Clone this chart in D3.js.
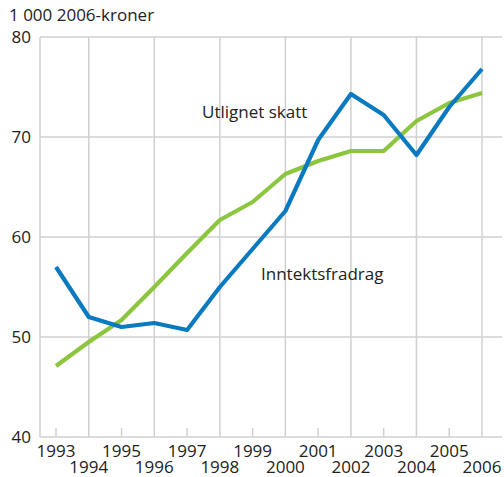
<!DOCTYPE html>
<html>
<head>
<meta charset="utf-8">
<script src="https://cdn.jsdelivr.net/npm/d3@7"></script>
<style>
  body { margin: 0; background: #fff; }
  svg { display: block; font-family: "Open Sans", "Noto Sans", sans-serif; }
</style>
</head>
<body>
<div id="chart"></div>
<script>
const years = [1993, 1994, 1995, 1996, 1997, 1998, 1999, 2000, 2001, 2002, 2003, 2004, 2005, 2006];
const inntektsfradrag = [57.0, 52.0, 51.0, 51.4, 50.7, 55.0, 58.8, 62.6, 69.7, 74.3, 72.2, 68.2, 73.0, 76.8];
const utlignetSkatt = [47.1, 49.5, 51.7, 55.0, 58.4, 61.7, 63.5, 66.3, 67.6, 68.6, 68.6, 71.6, 73.4, 74.4];
const yTicks = [40, 50, 60, 70, 80];

const width = 504, height = 477;
const plotLeft = 40, plotRight = 502, plotTop = 37, plotBottom = 437;

const svg = d3.select("#chart").append("svg")
  .attr("width", width).attr("height", height);

const x = d3.scaleLinear().domain([1993, 2006]).range([56, 482]);
const y = d3.scaleLinear().domain([40, 80]).range([plotBottom, plotTop]);

const grid = "#d0d0d0";
const textCol = "#222";
const fs = 17;

// horisontale rutenett
svg.append("g").selectAll("line")
  .data(yTicks.filter(d => d > 40))
  .join("line")
  .attr("x1", plotLeft).attr("x2", plotRight)
  .attr("y1", d => y(d)).attr("y2", d => y(d))
  .attr("stroke", grid).attr("stroke-width", 1.5);

// vertikale rutenett på partall-år
svg.append("g").selectAll("line")
  .data(years.filter(d => d % 2 === 0))
  .join("line")
  .attr("x1", d => x(d)).attr("x2", d => x(d))
  .attr("y1", plotTop).attr("y2", plotBottom)
  .attr("stroke", grid).attr("stroke-width", 1.5);

// små tick på oddetall-år
svg.append("g").selectAll("line")
  .data(years.filter(d => d % 2 === 1))
  .join("line")
  .attr("x1", d => x(d)).attr("x2", d => x(d))
  .attr("y1", plotBottom - 9).attr("y2", plotBottom)
  .attr("stroke", grid).attr("stroke-width", 1.5);

// akser
svg.append("line")
  .attr("x1", plotLeft).attr("x2", plotLeft).attr("y1", plotTop).attr("y2", plotBottom)
  .attr("stroke", grid).attr("stroke-width", 1.5);
svg.append("line")
  .attr("x1", plotLeft).attr("x2", plotRight).attr("y1", plotBottom).attr("y2", plotBottom)
  .attr("stroke", grid).attr("stroke-width", 1.5);

// y-etiketter
svg.append("g").selectAll("text")
  .data(yTicks)
  .join("text")
  .attr("x", 31).attr("y", d => y(d))
  .attr("dy", "0.35em")
  .attr("text-anchor", "end")
  .attr("font-size", fs)
  .attr("fill", textCol)
  .text(d => d);

// x-etiketter i to rader
svg.append("g").selectAll("text")
  .data(years)
  .join("text")
  .attr("x", d => x(d))
  .attr("y", d => d % 2 === 1 ? 457 : 473)
  .attr("text-anchor", "middle")
  .attr("font-size", fs)
  .attr("fill", textCol)
  .text(d => d);

svg.append("text")
  .attr("x", 9).attr("y", 21)
  .attr("font-size", fs)
  .attr("fill", textCol)
  .text("1 000 2006-kroner");

const line = d3.line().x((d, i) => x(years[i])).y(d => y(d));

svg.append("path")
  .datum(utlignetSkatt)
  .attr("d", line)
  .attr("fill", "none")
  .attr("stroke", "#8cc63f")
  .attr("stroke-width", 4.2)
  .attr("stroke-linejoin", "round");

svg.append("path")
  .datum(inntektsfradrag)
  .attr("d", line)
  .attr("fill", "none")
  .attr("stroke", "#0a7ac0")
  .attr("stroke-width", 4.2)
  .attr("stroke-linejoin", "round");

svg.append("text")
  .attr("x", 202).attr("y", 118)
  .attr("font-size", fs)
  .attr("fill", textCol)
  .text("Utlignet skatt");

svg.append("text")
  .attr("x", 261).attr("y", 280)
  .attr("font-size", fs)
  .attr("fill", textCol)
  .text("Inntektsfradrag");
</script>
</body>
</html>
